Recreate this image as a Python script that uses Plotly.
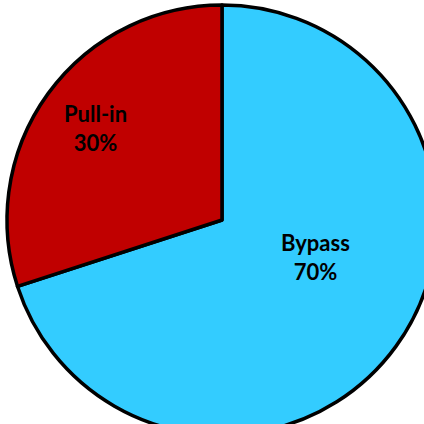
import plotly.graph_objects as go

labels = ["Bypass", "Pull-in"]
values = [70, 30]
colors = ["#33CCFF", "#C00000"]

W = 440
H = 440
cx, cy, r = 222, 220, 215

# label placement (pixel positions of label centres, style only)
label_pos = {"Bypass": (315, 257), "Pull-in": (95, 128)}

fig = go.Figure(go.Pie(
    labels=labels,
    values=values,
    sort=False,
    direction="clockwise",
    rotation=0,
    marker=dict(colors=colors, line=dict(color="black", width=3.5)),
    textinfo="none",
    showlegend=False,
    hoverinfo="label+percent",
    domain=dict(x=[(cx - r) / W, (cx + r) / W], y=[1 - (cy + r) / H, 1 - (cy - r) / H]),
))

total = sum(values)
for lab, val in zip(labels, values):
    px, py = label_pos[lab]
    pct = round(val / total * 100)
    fig.add_annotation(
        x=px / W, y=1 - py / H, xref="paper", yref="paper",
        xanchor="center", yanchor="middle",
        text=f"<b>{lab}</b><br><b>{pct}%</b>",
        showarrow=False,
        font=dict(family="Lato", size=22, color="black"),
    )

fig.update_layout(
    width=W, height=H,
    margin=dict(l=0, r=0, t=0, b=0),
    paper_bgcolor="white",
    plot_bgcolor="white",
)

fig.write_html(
    "out.html",
    config={"displayModeBar": False},
    post_script="document.body.style.margin='0';document.body.style.overflow='hidden';document.documentElement.style.overflow='hidden';",
)
